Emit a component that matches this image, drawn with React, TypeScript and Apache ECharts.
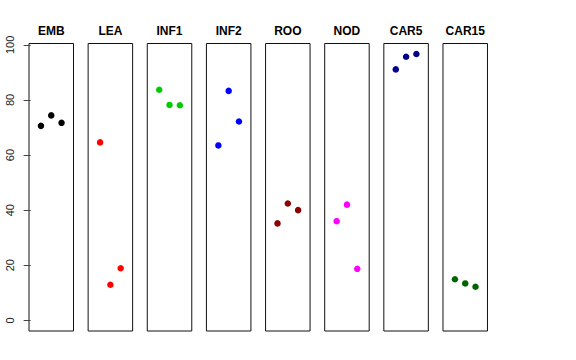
import React, { useEffect, useRef } from "react";
import * as echarts from "echarts";

const categories = ["EMB", "LEA", "INF1", "INF2", "ROO", "NOD", "CAR5", "CAR15"];
const colors = ["#000000", "#FF0000", "#00CD00", "#0000FF", "#8B0000", "#FF00FF", "#00008B", "#006400"];
const xPositions = [1, 2, 3];
const EMB = [70.6, 74.4, 71.7];
const LEA = [64.6, 12.9, 18.9];
const INF1 = [83.7, 78.2, 78.1];
const INF2 = [63.5, 83.3, 72.2];
const ROO = [35.2, 42.4, 40.0];
const NOD = [36.0, 42.0, 18.7];
const CAR5 = [91.1, 95.7, 96.7];
const CAR15 = [14.9, 13.4, 12.2];
const seriesValues = [EMB, LEA, INF1, INF2, ROO, NOD, CAR5, CAR15];
const yTicks = [0, 20, 40, 60, 80, 100];

export default function App() {
  const ref = useRef<HTMLDivElement>(null);
  useEffect(() => {
    if (!ref.current) return;
    const chart = echarts.init(ref.current, null, { renderer: "svg" });
    const font = "Liberation Sans, Arial, Helvetica, sans-serif";
    const left0 = 29;
    const step = 59.14;
    const w = 44.5;
    const top = 43.5;
    const h = 287.5;
    const grids = categories.map((_, i) => ({
      left: left0 + i * step,
      top,
      width: w,
      height: h,
      show: true,
      borderColor: "#111",
      borderWidth: 1,
      backgroundColor: "transparent",
    }));
    const xAxes = categories.map((_, i) => ({
      type: "value",
      gridIndex: i,
      min: -0.16,
      max: 4.16,
      show: false,
    }));
    const yAxes = categories.map((_, i) => ({
      type: "value",
      gridIndex: i,
      min: -3.87,
      max: 100.5,
      show: i === 0,
      splitLine: { show: false },
      axisLine: { show: false },
      axisTick: {
        show: true,
        length: 7,
        customValues: yTicks,
        lineStyle: { color: "#444", width: 1 },
      },
      axisLabel: {
        show: true,
        customValues: yTicks,
        rotate: 90,
        margin: 14,
        color: "#222",
        fontSize: 11,
        fontFamily: font,
      },
    }));
    const series = seriesValues.map((vals, i) => ({
      type: "scatter",
      name: categories[i],
      xAxisIndex: i,
      yAxisIndex: i,
      symbol: "circle",
      symbolSize: 6.5,
      itemStyle: { color: colors[i], opacity: 1 },
      data: vals.map((v, j) => [xPositions[j], v]),
    }));
    const graphic = categories.map((c, i) => ({
      type: "text",
      x: left0 + i * step + w / 2,
      y: 30.5,
      style: {
        text: c,
        align: "center",
        verticalAlign: "middle",
        font: `bold 12px ${font}`,
        fill: "#000",
      },
    }));
    chart.setOption({
      animation: false,
      backgroundColor: "#fff",
      grid: grids,
      xAxis: xAxes,
      yAxis: yAxes,
      series,
      graphic,
    } as any);
    return () => chart.dispose();
  }, []);
  return (
    <div
      ref={ref}
      style={{ position: "absolute", left: 0, top: 0, width: 576, height: 360 }}
    />
  );
}
